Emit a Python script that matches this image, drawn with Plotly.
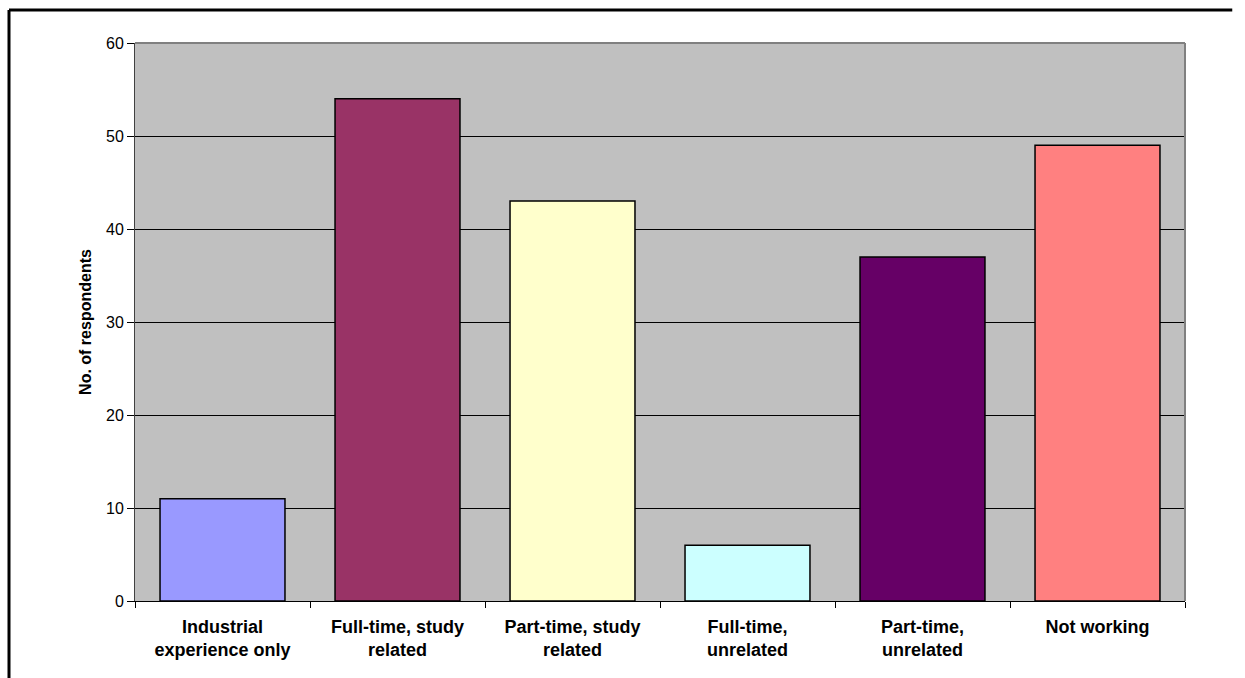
import plotly.graph_objects as go

categories = [
    "Industrial<br>experience only",
    "Full-time, study<br>related",
    "Part-time, study<br>related",
    "Full-time,<br>unrelated",
    "Part-time,<br>unrelated",
    "Not working",
]
respondents = [11, 54, 43, 6, 37, 49]
bar_colors = ["#9999FF", "#993366", "#FFFFCC", "#CCFFFF", "#660066", "#FF8080"]
y_ticks = [0, 10, 20, 30, 40, 50, 60]

fig = go.Figure(
    go.Bar(
        x=categories,
        y=respondents,
        marker=dict(color=bar_colors, line=dict(color="black", width=1.5)),
        hoverinfo="x+y",
    )
)

fig.update_layout(
    width=1245,
    height=678,
    margin=dict(l=135, r=60, t=43, b=77),
    paper_bgcolor="white",
    plot_bgcolor="#C0C0C0",
    bargap=0.286,
    showlegend=False,
    font=dict(family="Liberation Sans, Arial, sans-serif", color="black"),
)

fig.update_xaxes(
    tickson="boundaries",
    ticks="outside",
    ticklen=6,
    tickcolor="black",
    showline=True,
    linecolor="black",
    linewidth=1,
    ticklabelstandoff=9,
    tickfont=dict(size=18, family="Liberation Sans, Arial, sans-serif", weight="bold"),
    showgrid=False,
)

fig.update_yaxes(
    range=[0, 60],
    tickvals=y_ticks,
    ticks="outside",
    ticklen=7,
    tickcolor="black",
    showline=True,
    linecolor="#404040",
    linewidth=1,
    showgrid=True,
    gridcolor="black",
    gridwidth=1,
    zeroline=False,
    tickfont=dict(size=16),
    title=dict(
        text="No. of respondents",
        font=dict(size=16, weight="bold"),
        standoff=10,
    ),
)

# plot-area border (top and right edges)
fig.add_shape(type="line", xref="paper", yref="paper", x0=0, x1=1, y0=1, y1=1,
              line=dict(color="#808080", width=2))
fig.add_shape(type="line", xref="paper", yref="paper", x0=1, x1=1, y0=0, y1=1,
              line=dict(color="#808080", width=2))

# outer chart frame: left edge and top edge
fig.add_shape(type="line", xref="paper", yref="paper", x0=-0.12, x1=-0.12, y0=-0.2, y1=1.0591,
              line=dict(color="black", width=3))
fig.add_shape(type="line", xref="paper", yref="paper", x0=-0.12, x1=1.045, y0=1.0591, y1=1.0591,
              line=dict(color="black", width=3))

fig.write_html("out.html")
